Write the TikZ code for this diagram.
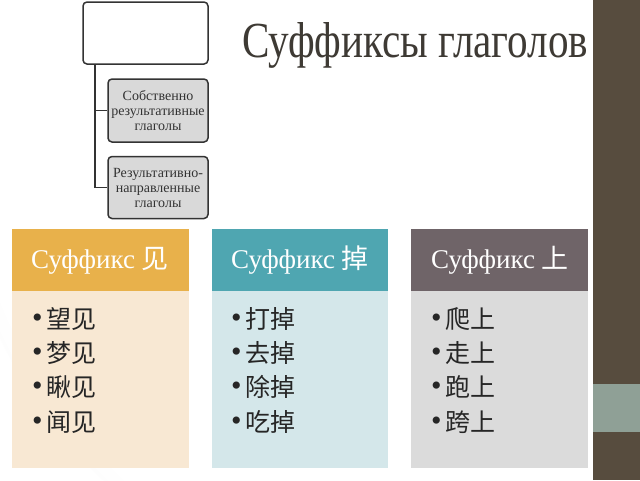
\documentclass[tikz,border=0pt]{standalone}
\usepackage{fontspec}
\setmainfont{Liberation Serif}
\newfontfamily\cjk{Noto Sans CJK SC}
\definecolor{hA}{HTML}{E8B14B}
\definecolor{bA}{HTML}{F8E8D3}
\definecolor{hB}{HTML}{4FA6B1}
\definecolor{bB}{HTML}{D4E7EA}
\definecolor{hC}{HTML}{6F6468}
\definecolor{bC}{HTML}{DBDBDB}
\definecolor{barc}{HTML}{574C3E}
\definecolor{bandc}{HTML}{8FA096}
\definecolor{titlec}{HTML}{3E3A34}
\definecolor{linec}{HTML}{333333}
\definecolor{boxfill}{HTML}{D9D9D9}
\pgfdeclareradialshading{vign}{\pgfpoint{0bp}{0bp}}{color(0bp)=(white); color(24bp)=(white); color(50bp)=(black!18)}
\newcommand{\bl}{\makebox[14pt][l]{\rmfamily\fontsize{30}{34.3}\selectfont\raisebox{1pt}{•}}}
\begin{document}
\begin{tikzpicture}[x=1pt,y=-1pt,
  orgbox/.style={draw=linec, line width=1.5pt, rounded corners=4pt, inner sep=0pt, align=center,
    text=black!80, font=\fontsize{14}{15}\selectfont},
  conn/.style={draw=linec, line width=1.6pt},
  hdr/.style={anchor=north west, minimum width=176.5pt, minimum height=62pt, inner sep=0pt},
  bdy/.style={anchor=north west, minimum width=176.5pt, minimum height=177pt, inner sep=0pt},
  htext/.style={anchor=base west, inner sep=0pt, text=white, font=\fontsize{27}{27}\selectfont},
  list/.style={anchor=base west, inner sep=0pt, align=left, text=black!85, font=\fontsize{25}{34.3}\selectfont\cjk}
]
\useasboundingbox (0,0) rectangle (640,480);
% background
\fill[white] (0,0) rectangle (640,480);
\begin{scope}
  \clip (0,0) rectangle (593,480);
  \shade[shading=vign] (450,120) circle (500);
\end{scope}
\fill[barc] (593,0) rectangle (640,480);
\fill[bandc] (593,384) rectangle (640,432);

% title
\node[anchor=base west, inner sep=0pt, text=titlec] (title) at (242,57)
  {\resizebox{346pt}{35pt}{Суффиксы глаголов}};

% org chart
\node[orgbox, fill=white, minimum width=125pt, minimum height=62pt] (root) at (145.5,33) {};
\node[orgbox, fill=boxfill, minimum width=100pt, minimum height=63pt] (b2) at (158,110.5)
  {Собственно\\результативные\\глаголы};
\node[orgbox, fill=boxfill, minimum width=100pt, minimum height=62pt] (b3) at (158,187.5)
  {Результативно-\\направленные\\глаголы};
\draw[conn] ([xshift=13pt]root.south west) |- (b2.west);
\draw[conn] ([xshift=13pt]root.south west) |- (b3.west);

% columns
\node[hdr, fill=hA] (h1) at (12,229) {};
\node[bdy, fill=bA] (c1) at (12,291) {};
\node[hdr, fill=hB] (h2) at (211.5,229) {};
\node[bdy, fill=bB] (c2) at (211.5,291) {};
\node[hdr, fill=hC] (h3) at (411,229) {};
\node[bdy, fill=bC] (c3) at (411,291) {};

\node[htext] (t1) at (31,268) {Суффикс {\cjk 见}};
\node[htext] (t2) at (231,268) {Суффикс {\cjk 掉}};
\node[htext] (t3) at (431,268) {Суффикс {\cjk 上}};

\node[list] (l1) at (32,431) {\bl 望见\\\bl 梦见\\\bl 瞅见\\\bl 闻见};
\node[list] (l2) at (231,431) {\bl 打掉\\\bl 去掉\\\bl 除掉\\\bl 吃掉};
\node[list] (l3) at (431,431) {\bl 爬上\\\bl 走上\\\bl 跑上\\\bl 跨上};
\end{tikzpicture}
\end{document}
